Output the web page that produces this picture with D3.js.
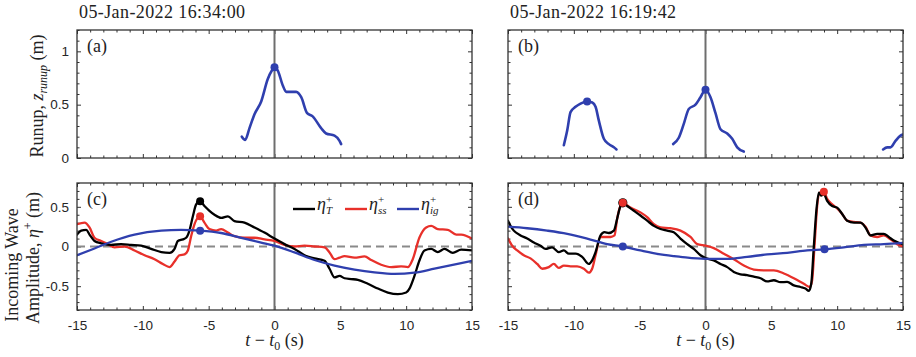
<!DOCTYPE html>
<html>
<head>
<meta charset="utf-8">
<script src="https://cdn.jsdelivr.net/npm/d3@7"></script>
<style>
  body { margin: 0; background: #fff; }
  svg text { font-family: "Liberation Serif", "Times New Roman", serif; fill: #222; }
  .tick text { font-family: "Liberation Sans", Arial, sans-serif; font-size: 13.5px; fill: #262626; }
</style>
</head>
<body>
<svg width="916" height="357"></svg>
<script>
// ---- data ----
const titles = ["05-Jan-2022 16:34:00", "05-Jan-2022 16:19:42"];
const xTicks = [-15, -10, -5, 0, 5, 10, 15];
const runupTicks = [0, 0.5, 1];
const etaTicks = [-0.5, 0, 0.5];

// (a) runup
const tA = [-2.48, -2.23, -1.9, -1.52, -1.01, -0.51, -0.2, 0, 0.25, 0.63, 0.89, 1.65, 2.03, 2.48, 2.9, 3.54, 3.92, 4.56, 4.94, 5.06];
const zA = [0.20, 0.17, 0.28, 0.41, 0.53, 0.74, 0.82, 0.85, 0.82, 0.68, 0.62, 0.62, 0.57, 0.42, 0.39, 0.28, 0.23, 0.21, 0.16, 0.13];
const peaksA = [[0, 0.85]];

// (b) runup, three separate swashes
const tB1 = [-10.76, -10.5, -10.25, -9.87, -9.49, -8.99, -8.6, -8.35, -8.1, -7.72, -7.34, -6.96, -6.76];
const zB1 = [0.12, 0.26, 0.43, 0.48, 0.51, 0.53, 0.52, 0.48, 0.35, 0.18, 0.13, 0.10, 0.08];
const tB2 = [-2.46, -2.03, -1.65, -1.27, -0.76, -0.38, 0, 0.38, 0.76, 1.14, 1.65, 2.03, 2.41, 2.91];
const zB2 = [0.13, 0.19, 0.32, 0.46, 0.50, 0.57, 0.64, 0.57, 0.42, 0.27, 0.23, 0.18, 0.10, 0.06];
const tB3 = [13.49, 13.8, 14.05, 14.43, 14.81, 15.0];
const zB3 = [0.08, 0.10, 0.10, 0.16, 0.21, 0.22];
const peaksB = [[-8.99, 0.53], [0, 0.64]];

// (c) incoming wave amplitude
const tC_T = [-15, -14.68, -14.3, -14.05, -13.67, -13.16, -12.4, -11.65, -10.89, -10.13, -9.37, -8.6, -7.97, -7.59, -7.34, -6.96, -6.71, -6.46, -6.2, -5.95, -5.65, -5.32, -4.94, -4.56, -4.05, -3.54, -3.04, -2.28, -1.52, -0.76, 0, 0.76, 1.52, 2.28, 3.04, 3.8, 4.18, 4.56, 4.94, 5.32, 5.82, 6.33, 7.09, 7.85, 8.61, 9.37, 10.0, 10.25, 10.63, 11.0, 11.39, 11.9, 12.4, 12.91, 13.54, 14.18, 15];
const eC_T = [0.15, 0.20, 0.21, 0.15, 0.07, 0.04, 0.02, 0.03, 0.02, 0.01, -0.03, -0.07, -0.08, -0.03, 0.07, 0.09, 0.11, 0.20, 0.38, 0.53, 0.57, 0.51, 0.45, 0.40, 0.36, 0.38, 0.32, 0.30, 0.24, 0.175, 0.10, 0.03, -0.03, -0.11, -0.15, -0.18, -0.28, -0.39, -0.37, -0.40, -0.41, -0.42, -0.47, -0.53, -0.58, -0.60, -0.58, -0.53, -0.37, -0.18, -0.05, -0.03, -0.07, -0.03, -0.08, -0.04, -0.05];
const tC_ss = [-15, -14.43, -14.05, -13.67, -13.16, -12.66, -12.15, -11.39, -10.63, -9.87, -9.11, -8.48, -7.97, -7.59, -7.22, -6.84, -6.58, -6.33, -6.08, -5.65, -5.32, -4.94, -4.43, -4.05, -3.54, -3.04, -2.28, -1.52, -0.76, 0, 0.76, 1.52, 2.28, 3.04, 3.8, 4.18, 4.56, 4.94, 5.32, 6.08, 6.84, 7.34, 8.1, 8.86, 9.62, 10.13, 10.5, 11.0, 11.52, 11.9, 12.4, 13.16, 13.8, 14.18, 15];
const eC_ss = [0.28, 0.30, 0.24, 0.11, 0.07, 0.03, -0.01, 0.0, -0.05, -0.11, -0.16, -0.22, -0.26, -0.19, -0.11, -0.10, -0.05, 0.13, 0.28, 0.38, 0.30, 0.22, 0.20, 0.22, 0.175, 0.13, 0.11, 0.11, 0.09, 0.07, 0.02, 0.0, 0.01, 0.0, -0.01, -0.075, -0.16, -0.14, -0.12, -0.14, -0.125, -0.17, -0.23, -0.26, -0.25, -0.26, -0.16, 0.11, 0.24, 0.26, 0.22, 0.21, 0.15, 0.15, 0.10];
const tC_ig = [-15, -13.67, -12.4, -10.63, -8.6, -7.1, -5.65, -4.05, -2.53, -1.01, 0, 1.52, 3.04, 4.56, 6.08, 7.59, 9.11, 10.63, 12.15, 14.18, 15];
const eC_ig = [-0.11, -0.025, 0.06, 0.15, 0.20, 0.21, 0.20, 0.17, 0.11, 0.05, 0.01, -0.075, -0.17, -0.24, -0.29, -0.325, -0.345, -0.33, -0.28, -0.21, -0.18];
const peaksC_T = [[-5.65, 0.57]];
const peaksC_ss = [[-5.65, 0.38]];
const peaksC_ig = [[-5.65, 0.20]];

// (d) incoming wave amplitude
const tD_T = [-15, -14.81, -14.56, -14.05, -13.54, -13.04, -12.53, -12.15, -11.65, -11.14, -10.76, -10.38, -9.87, -9.37, -8.86, -8.61, -8.35, -7.97, -7.67, -7.34, -6.96, -6.71, -6.5, -6.28, -5.95, -5.44, -4.94, -4.43, -3.92, -3.42, -2.91, -2.41, -1.9, -1.39, -0.89, -0.38, 0, 0.63, 1.14, 1.65, 2.15, 2.66, 3.16, 3.67, 4.18, 4.68, 5.19, 5.7, 6.2, 6.71, 7.22, 7.59, 7.85, 8.03, 8.23, 8.43, 8.61, 8.78, 8.99, 9.24, 9.62, 10.0, 10.38, 10.76, 11.27, 11.77, 12.15, 12.53, 13.04, 13.54, 13.92, 14.3, 14.68, 15];
const eD_T = [0.325, 0.26, 0.20, 0.14, 0.10, 0.05, 0.01, -0.03, -0.01, -0.07, -0.05, -0.09, -0.09, -0.13, -0.22, -0.175, -0.07, 0.14, 0.18, 0.17, 0.20, 0.35, 0.49, 0.55, 0.51, 0.45, 0.39, 0.325, 0.26, 0.22, 0.20, 0.18, 0.10, 0.03, -0.03, -0.11, -0.145, -0.175, -0.22, -0.26, -0.32, -0.35, -0.36, -0.38, -0.40, -0.44, -0.425, -0.45, -0.445, -0.49, -0.51, -0.53, -0.56, -0.47, 0.01, 0.47, 0.68, 0.64, 0.66, 0.575, 0.51, 0.49, 0.41, 0.325, 0.30, 0.30, 0.24, 0.14, 0.16, 0.16, 0.12, 0.075, 0.046, 0.03];
const tD_ss = [-15, -14.68, -14.3, -13.8, -13.29, -12.78, -12.4, -11.9, -11.52, -11.14, -10.76, -10.25, -9.75, -9.24, -8.86, -8.61, -8.35, -7.97, -7.59, -7.22, -6.91, -6.71, -6.46, -6.28, -5.7, -4.94, -4.43, -3.92, -3.42, -2.66, -1.9, -1.14, -0.63, 0, 0.63, 1.39, 2.15, 2.91, 3.67, 4.43, 5.19, 5.95, 6.71, 7.47, 7.92, 8.1, 8.28, 8.48, 8.68, 8.99, 9.24, 9.62, 10.0, 10.38, 10.76, 11.27, 11.77, 12.15, 12.53, 13.04, 13.54, 14.05, 14.56, 15];
const eD_ss = [0.10, 0.01, -0.05, -0.11, -0.15, -0.22, -0.28, -0.26, -0.22, -0.27, -0.24, -0.25, -0.25, -0.28, -0.33, -0.28, -0.11, 0.12, 0.12, 0.12, 0.14, 0.35, 0.51, 0.55, 0.49, 0.43, 0.37, 0.28, 0.24, 0.23, 0.20, 0.12, 0.03, 0.01, -0.02, -0.09, -0.16, -0.24, -0.29, -0.30, -0.30, -0.34, -0.40, -0.47, -0.51, -0.425, 0.01, 0.51, 0.68, 0.69, 0.60, 0.53, 0.48, 0.41, 0.325, 0.31, 0.30, 0.25, 0.14, 0.12, 0.14, 0.09, 0.03, 0.0];
const tD_ig = [-15, -13.54, -12.03, -10.5, -8.99, -7.47, -6.28, -4.94, -3.42, -1.9, 0, 1.65, 3.16, 4.68, 6.2, 7.72, 9.04, 10.5, 12.03, 13.54, 15];
const eD_ig = [0.25, 0.23, 0.20, 0.16, 0.10, 0.03, 0.0, -0.05, -0.10, -0.13, -0.155, -0.155, -0.13, -0.10, -0.08, -0.05, -0.035, -0.01, 0.02, 0.03, 0.045];
const peaksD_T = [[-6.28, 0.55]];
const peaksD_ss = [[-6.28, 0.55], [8.99, 0.69]];
const peaksD_ig = [[-6.28, 0.0], [9.04, -0.035]];

const legendKeys = ["T", "ss", "ig"];

// ---- layout ----
const svg = d3.select("svg");
const BLUE = "#2f3fae", RED = "#e8302a", BLACK = "#000";
const colLeft = [77, 508], panelW = 395;
const rowTop = [30, 183], panelH = [128, 127];

const zip = (t, v) => t.map((d, i) => [d, v[i]]);
const fmt = d => String(d);
const range = (a, b, s) => d3.range(Math.round(a / s), Math.round(b / s) + 1).map(k => +(k * s).toFixed(3));

function makePanel(col, row, yDomain, yMajor, yStep, showX, showY, label) {
  const x0 = colLeft[col], y0 = rowTop[row], h = panelH[row];
  const g = svg.append("g").attr("transform", `translate(${x0},${y0})`);
  const x = d3.scaleLinear().domain([-15, 15]).range([0, panelW]);
  const y = d3.scaleLinear().domain(yDomain).range([h, 0]);

  const xMinor = range(-15, 15, 1).filter(d => !xTicks.includes(d));
  const yMinor = range(yDomain[0], yDomain[1], yStep).filter(d => !yMajor.some(m => Math.abs(m - d) < 1e-6));

  const axes = [
    [d3.axisBottom, `translate(0,${h})`, x, xTicks, xMinor, showX, 10],
    [d3.axisTop, null, x, xTicks, xMinor, false, 0],
    [d3.axisLeft, null, y, yMajor, yMinor, showY, 8],
    [d3.axisRight, `translate(${panelW},0)`, y, yMajor, yMinor, false, 0]
  ];
  axes.forEach(([ax, tr, sc, major, minor, lab, pad]) => {
    const a1 = g.append("g").call(ax(sc).tickValues(major).tickSize(-4).tickPadding(pad).tickFormat(lab ? fmt : ""));
    const a2 = g.append("g").call(ax(sc).tickValues(minor).tickSize(-2.5).tickFormat(""));
    [a1, a2].forEach(a => {
      if (tr) a.attr("transform", tr);
      a.select(".domain").remove();
      a.selectAll("line").attr("stroke", "#333").attr("stroke-width", 1);
    });
  });

  const clipId = "clip" + label;
  g.append("clipPath").attr("id", clipId).append("rect").attr("width", panelW).attr("height", h);
  const plot = g.append("g").attr("clip-path", `url(#${clipId})`);

  // vertical reference at t0
  plot.append("line").attr("x1", x(0)).attr("x2", x(0)).attr("y1", 0).attr("y2", h)
    .attr("stroke", "#6e6e6e").attr("stroke-width", 2);

  g.append("rect").attr("width", panelW).attr("height", h)
    .attr("fill", "none").attr("stroke", "#333").attr("stroke-width", 1.3);

  g.append("text").attr("x", 10).attr("y", 22).attr("font-size", 18).text(`(${label})`);
  return { g, plot, x, y, h };
}

const lineGen = (p) => d3.line().x(d => p.x(d[0])).y(d => p.y(d[1])).curve(d3.curveMonotoneX);

function drawLine(p, pts, color, w) {
  p.plot.append("path").datum(pts).attr("d", lineGen(p)).attr("fill", "none")
    .attr("stroke", color).attr("stroke-width", w).attr("stroke-linejoin", "round").attr("stroke-linecap", "round");
}
function drawDots(p, pts, color, r) {
  p.plot.selectAll(null).data(pts).enter().append("circle")
    .attr("cx", d => p.x(d[0])).attr("cy", d => p.y(d[1])).attr("r", r).attr("fill", color);
}
function zeroDash(p) {
  p.plot.append("line").attr("x1", 0).attr("x2", panelW).attr("y1", p.y(0)).attr("y2", p.y(0))
    .attr("stroke", "#8a8a8a").attr("stroke-width", 2).attr("stroke-dasharray", "8,5");
}

// titles
titles.forEach((t, i) => {
  svg.append("text").attr("x", colLeft[i] + 2).attr("y", 18).attr("font-size", 18)
    .attr("letter-spacing", 0.4).text(t);
});

// (a)
const pA = makePanel(0, 0, [0, 1.2], runupTicks, 0.1, false, true, "a");
drawLine(pA, zip(tA, zA), BLUE, 2.6);
drawDots(pA, peaksA, BLUE, 4);

// (b)
const pB = makePanel(1, 0, [0, 1.2], runupTicks, 0.1, false, false, "b");
[[tB1, zB1], [tB2, zB2], [tB3, zB3]].forEach(([t, z]) => drawLine(pB, zip(t, z), BLUE, 2.6));
drawDots(pB, peaksB, BLUE, 4);

// (c)
const pC = makePanel(0, 1, [-0.8, 0.8], etaTicks, 0.1, true, true, "c");
zeroDash(pC);
drawLine(pC, zip(tC_ss, eC_ss), RED, 2.3);
drawLine(pC, zip(tC_T, eC_T), BLACK, 2.3);
drawLine(pC, zip(tC_ig, eC_ig), BLUE, 2.3);
drawDots(pC, peaksC_T, BLACK, 4);
drawDots(pC, peaksC_ss, RED, 4);
drawDots(pC, peaksC_ig, BLUE, 4);

// (d)
const pD = makePanel(1, 1, [-0.8, 0.8], etaTicks, 0.1, true, false, "d");
zeroDash(pD);
drawLine(pD, zip(tD_ss, eD_ss), RED, 2.3);
drawLine(pD, zip(tD_T, eD_T), BLACK, 2.3);
drawLine(pD, zip(tD_ig, eD_ig), BLUE, 2.3);
drawDots(pD, peaksD_T, BLACK, 4.6);
drawDots(pD, peaksD_ss, RED, 4);
drawDots(pD, peaksD_ig, BLUE, 4);

// legend in (c)
const legColors = [BLACK, RED, BLUE];
const leg = svg.append("g").attr("transform", "translate(293,209)");
legendKeys.forEach((k, i) => {
  const lx = i * 52;
  leg.append("line").attr("x1", lx).attr("x2", lx + 22).attr("y1", 0).attr("y2", 0)
    .attr("stroke", legColors[i]).attr("stroke-width", 2.4);
  leg.append("text").attr("x", lx + 24).attr("y", 1).attr("font-size", 18).attr("font-style", "italic").text("η");
  leg.append("text").attr("x", lx + 33).attr("y", -6).attr("font-size", 11).text("+");
  leg.append("text").attr("x", lx + 33).attr("y", 5).attr("font-size", 11).attr("font-style", "italic").text(k);
});

// y axis titles
const ya = svg.append("text").attr("transform", "translate(43,96) rotate(-90)")
  .attr("text-anchor", "middle").attr("font-size", 18);
ya.append("tspan").text("Runup, ");
ya.append("tspan").attr("font-style", "italic").text("z");
ya.append("tspan").attr("font-style", "italic").attr("font-size", 12).attr("dy", 4).text("runup");
ya.append("tspan").attr("dy", -4).text(" (m)");

svg.append("text").attr("transform", "translate(18,265) rotate(-90)")
  .attr("text-anchor", "middle").attr("font-size", 18).text("Incoming Wave");
const yc = svg.append("text").attr("transform", "translate(39,258) rotate(-90)")
  .attr("text-anchor", "middle").attr("font-size", 18);
yc.append("tspan").text("Amplitude, ");
yc.append("tspan").attr("font-style", "italic").text("η");
yc.append("tspan").attr("font-size", 12).attr("dy", -7).text("+");
yc.append("tspan").attr("dy", 7).text(" (m)");

// x axis titles
colLeft.forEach(cx => {
  const xt = svg.append("text").attr("x", cx + panelW / 2).attr("y", 346)
    .attr("text-anchor", "middle").attr("font-size", 18);
  xt.append("tspan").attr("font-style", "italic").text("t");
  xt.append("tspan").text(" − ");
  xt.append("tspan").attr("font-style", "italic").text("t");
  xt.append("tspan").attr("font-size", 12).attr("dy", 4).text("0");
  xt.append("tspan").attr("dy", -4).text(" (s)");
});
</script>
</body>
</html>
